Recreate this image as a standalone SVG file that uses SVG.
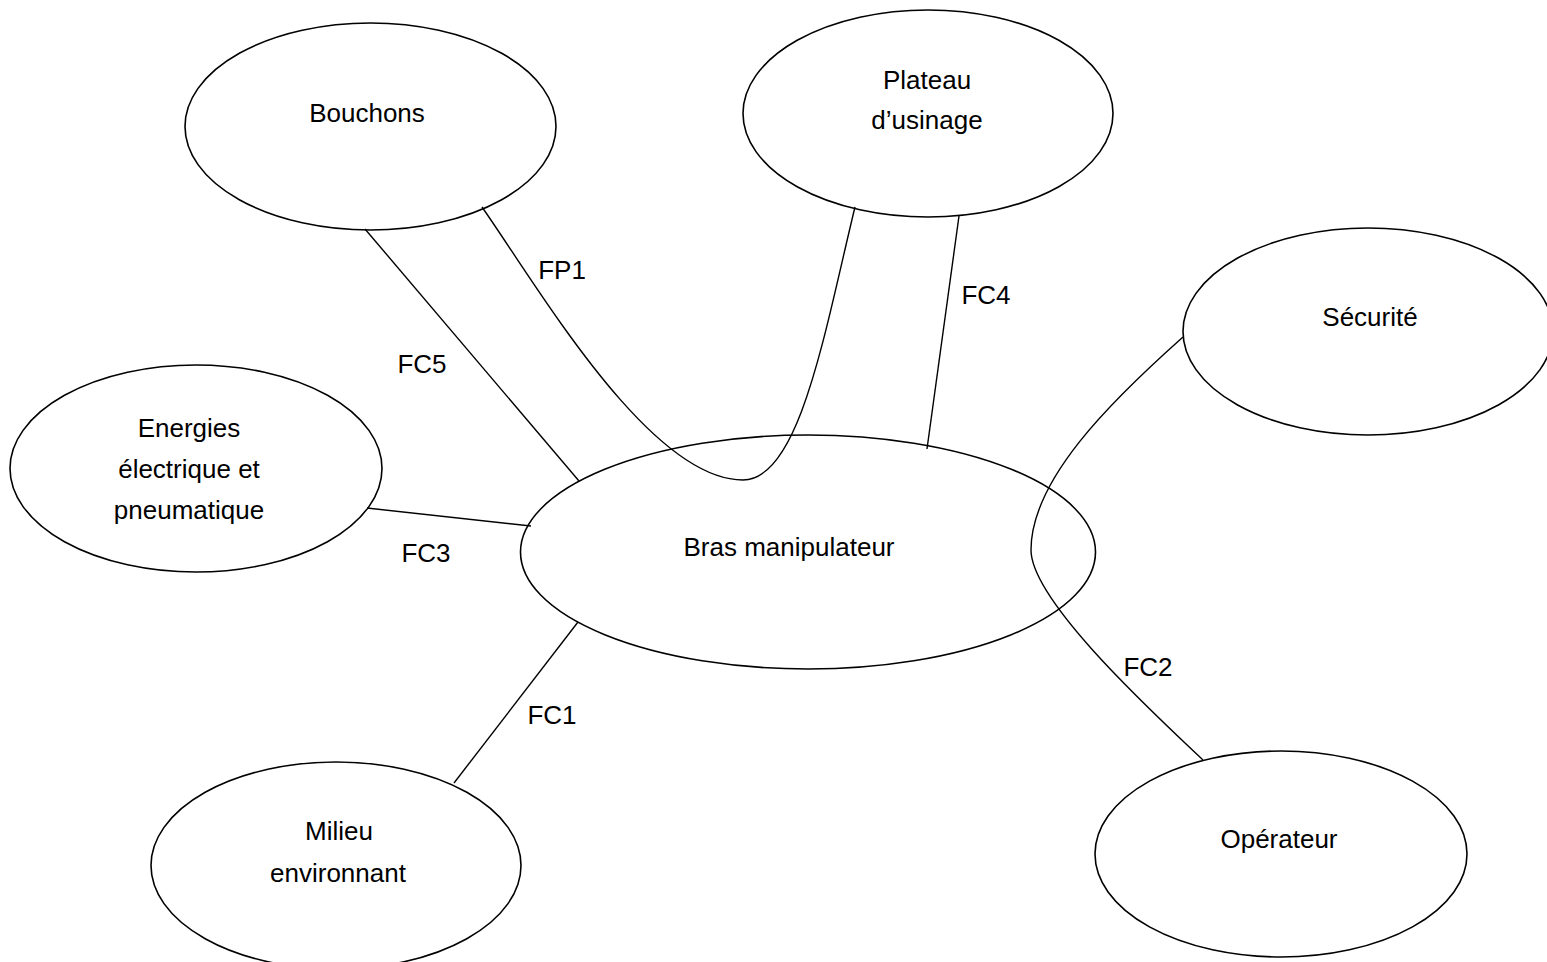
<svg xmlns="http://www.w3.org/2000/svg" width="1547" height="962" viewBox="0 0 1547 962">
  <style>
    .node { fill: none; stroke: #000; stroke-width: 1.6; }
    .conn { fill: none; stroke: #000; stroke-width: 1.4; }
    .lbl { font-family: "Liberation Sans", Arial, sans-serif; font-size: 26px; fill: #000; text-anchor: middle; }
  </style>
  <rect x="0" y="0" width="1547" height="962" fill="#fff"/>

  <g id="connectors">
    <path id="c-fc5" class="conn" d="M365,229 L579,481"/>
    <path id="c-fp1" class="conn" d="M482,207 C540,290 650,480 743,480 C800,480 825,330 855,207"/>
    <path id="c-fc4" class="conn" d="M959,216 L927,449"/>
    <path id="c-fc3" class="conn" d="M367,508 L531,526"/>
    <path id="c-fc1" class="conn" d="M578,622 L454,783"/>
    <path id="c-fc2" class="conn" d="M1183,337 C1110,402 1031,480 1031,550 C1031,600 1150,710 1203,760"/>
    <text class="lbl" x="562" y="279">FP1</text>
    <text class="lbl" x="422" y="373">FC5</text>
    <text class="lbl" x="986" y="304">FC4</text>
    <text class="lbl" x="426" y="562">FC3</text>
    <text class="lbl" x="552" y="724">FC1</text>
    <text class="lbl" x="1148" y="676">FC2</text>
  </g>

  <g id="bouchons">
    <ellipse class="node" cx="370.5" cy="126.5" rx="185.5" ry="103.5"/>
    <text class="lbl" x="367" y="122">Bouchons</text>
  </g>

  <g id="plateau">
    <ellipse class="node" cx="928" cy="113.5" rx="185" ry="103.5"/>
    <text class="lbl" x="927" y="89">Plateau</text>
    <text class="lbl" x="927" y="129">d’usinage</text>
  </g>

  <g id="securite">
    <ellipse class="node" cx="1368" cy="331.5" rx="185" ry="103.5"/>
    <text class="lbl" x="1370" y="326">Sécurité</text>
  </g>

  <g id="energies">
    <ellipse class="node" cx="196" cy="468.5" rx="186" ry="103.5"/>
    <text class="lbl" x="189" y="437">Energies</text>
    <text class="lbl" x="189" y="478">électrique et</text>
    <text class="lbl" x="189" y="519">pneumatique</text>
  </g>

  <g id="bras">
    <ellipse class="node" cx="808" cy="552" rx="287.5" ry="117"/>
    <text class="lbl" x="789" y="556">Bras manipulateur</text>
  </g>

  <g id="milieu">
    <ellipse class="node" cx="336" cy="865.5" rx="185" ry="103.5"/>
    <text class="lbl" x="339" y="840">Milieu</text>
    <text class="lbl" x="338" y="882">environnant</text>
  </g>

  <g id="operateur">
    <ellipse class="node" cx="1281" cy="854" rx="186" ry="103"/>
    <text class="lbl" x="1279" y="848">Opérateur</text>
  </g>
</svg>
